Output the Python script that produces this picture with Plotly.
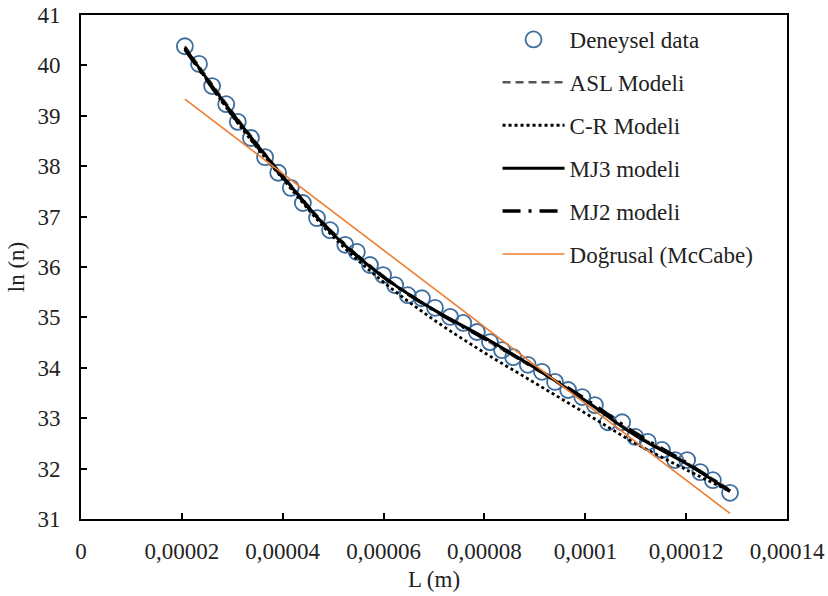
import plotly.graph_objects as go

# Experimental data
L_exp = [2.06e-5, 2.34e-5, 2.60e-5, 2.88e-5, 3.11e-5, 3.37e-5, 3.65e-5, 3.91e-5, 4.16e-5, 4.40e-5,
         4.68e-5, 4.94e-5, 5.24e-5, 5.47e-5, 5.73e-5, 5.99e-5, 6.23e-5, 6.48e-5, 6.76e-5, 7.02e-5,
         7.32e-5, 7.58e-5, 7.85e-5, 8.11e-5, 8.35e-5, 8.57e-5, 8.86e-5, 9.14e-5, 9.40e-5, 9.66e-5,
         9.94e-5, 1.019e-4, 1.045e-4, 1.073e-4, 1.099e-4, 1.124e-4, 1.152e-4, 1.178e-4, 1.202e-4,
         1.228e-4, 1.253e-4, 1.287e-4]
ln_exp = [40.38, 40.03, 39.59, 39.23, 38.88, 38.56, 38.18, 37.87, 37.57, 37.27,
          36.97, 36.73, 36.44, 36.30, 36.04, 35.84, 35.64, 35.44, 35.38, 35.19,
          35.01, 34.89, 34.71, 34.51, 34.35, 34.21, 34.06, 33.92, 33.72, 33.56,
          33.42, 33.26, 32.92, 32.92, 32.63, 32.53, 32.37, 32.17, 32.17,
          31.93, 31.77, 31.52]

# Model curves
L_mod = [2.06e-5, 3e-5, 4e-5, 5e-5, 6e-5, 7e-5, 8e-5, 9e-5, 1e-4, 1.1e-4, 1.2e-4, 1.287e-4]
ln_asl = [40.38, 39.08, 37.82, 36.68, 35.82, 35.15, 34.57, 33.98, 33.35, 32.68, 32.12, 31.58]
ln_cr = [40.35, 39.00, 37.75, 36.60, 35.70, 34.95, 34.30, 33.70, 33.10, 32.50, 31.98, 31.55]
ln_mj3 = [40.35, 39.05, 37.80, 36.65, 35.80, 35.15, 34.60, 34.00, 33.35, 32.65, 32.10, 31.55]
ln_mj2 = [40.32, 39.02, 37.78, 36.66, 35.80, 35.14, 34.58, 34.00, 33.38, 32.70, 32.12, 31.55]

# Linear (McCabe)
L_lin = [2.06e-5, 1.287e-4]
ln_lin = [39.33, 31.11]

x_tickvals = [0, 0.00002, 0.00004, 0.00006, 0.00008, 0.0001, 0.00012, 0.00014]
x_ticktext = ["0", "0,00002", "0,00004", "0,00006", "0,00008", "0,0001", "0,00012", "0,00014"]
y_tickvals = [31, 32, 33, 34, 35, 36, 37, 38, 39, 40, 41]

FONT = "Liberation Serif, Times New Roman, serif"

fig = go.Figure()
fig.add_trace(go.Scatter(x=L_exp, y=ln_exp, mode="markers", name="Deneysel data",
                         legendgroup="a",
                         marker=dict(symbol="circle-open", size=16, color="#3E6E9E",
                                     line=dict(width=1.8, color="#3E6E9E"))))
fig.add_trace(go.Scatter(x=L_mod, y=ln_asl, mode="lines", name="ASL Modeli", legendgroup="b",
                         line=dict(color="#555555", width=2.5, dash="8px,5px", shape="spline")))
fig.add_trace(go.Scatter(x=L_mod, y=ln_cr, mode="lines", name="C-R Modeli", legendgroup="c",
                         line=dict(color="black", width=2.8, dash="dot", shape="spline")))
fig.add_trace(go.Scatter(x=L_mod, y=ln_mj3, mode="lines", name="MJ3 modeli", legendgroup="d",
                         line=dict(color="black", width=3, shape="spline")))
fig.add_trace(go.Scatter(x=L_mod, y=ln_mj2, mode="lines", name="MJ2 modeli", legendgroup="e",
                         line=dict(color="black", width=3.5, dash="18px,8px,3px,8px", shape="spline")))
fig.add_trace(go.Scatter(x=L_lin, y=ln_lin, mode="lines", name="Doğrusal (McCabe)", legendgroup="f",
                         line=dict(color="#ED7D31", width=1.6)))

fig.update_layout(
    width=828, height=596,
    margin=dict(l=81, r=41, t=15, b=77),
    paper_bgcolor="white", plot_bgcolor="white",
    font=dict(family=FONT, size=23, color="#222222"),
    showlegend=True,
    legend=dict(x=0.59, y=0.994, xanchor="left", yanchor="top",
                bgcolor="rgba(0,0,0,0)", font=dict(size=23, family=FONT),
                tracegroupgap=10, itemwidth=62),
    xaxis=dict(range=[0, 0.00014], tickvals=x_tickvals, ticktext=x_ticktext,
               ticks="inside", ticklen=6, tickwidth=1.5, tickcolor="black",
               showline=True, linecolor="black", linewidth=2, mirror=True,
               showgrid=False, zeroline=False, ticklabelstandoff=10, automargin=False,
               title=dict(text="L (m)", font=dict(size=23, family=FONT), standoff=8)),
    yaxis=dict(range=[31, 41], tickvals=y_tickvals,
               ticks="inside", ticklen=6, tickwidth=1.5, tickcolor="black",
               showline=True, linecolor="black", linewidth=2, mirror=True,
               showgrid=False, zeroline=False, ticklabelstandoff=14, automargin=False,
               title=dict(text="ln (n)", font=dict(size=23, family=FONT), standoff=6)),
)

fig.write_html("out.html")
